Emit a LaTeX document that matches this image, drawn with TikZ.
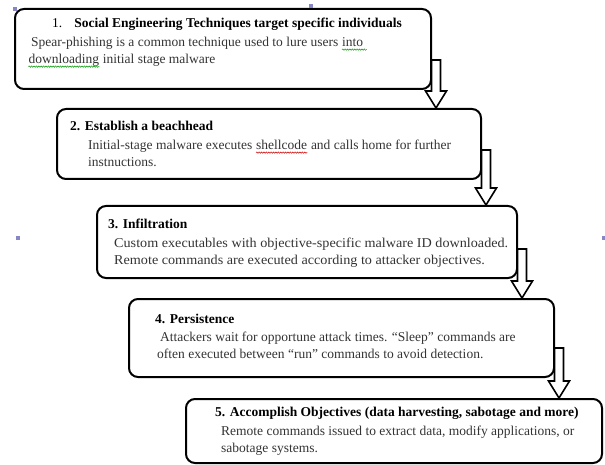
\documentclass[tikz,border=0pt]{standalone}
\usepackage{fontspec}
\setmainfont{Liberation Serif}
\usetikzlibrary{calc,decorations.pathmorphing}
\newcommand\wavy[2]{\tikz[baseline=(w.base),x=1pt,y=1pt]{\node[inner sep=0pt,anchor=base west] (w) {#2};
  \draw[#1, line width=0.5pt, decorate, decoration={snake, segment length=2.4pt, amplitude=0.7pt}]
    ([yshift=-2.6pt]w.base west) -- ([yshift=-2.6pt]w.base east);}}
\newcommand\wide[1]{\scalebox{1.05}[1]{#1}}
\newcommand\stagearrow[2]{%
  \path[blockarrow] let \p1=(#1.south east), \p2=(#2.north) in
    (\x1-0.5pt, \y1+30pt) -- (\x1+8.5pt, \y1+30pt) -- (\x1+8.5pt, \y2+17pt) --
    (\x1+14.5pt, \y2+17pt) -- (\x1+4pt, \y2) -- (\x1-6.5pt, \y2+17pt) --
    (\x1-0.5pt, \y2+17pt) -- cycle;}
\begin{document}
\begin{tikzpicture}[x=1pt,y=-1pt,
  stagebox/.style={draw, line width=2pt, rounded corners=9pt, anchor=north west, inner sep=0pt},
  ttl/.style={anchor=base west, align=left, inner sep=0pt, font=\fontsize{13.5}{17}\selectfont\bfseries},
  txt/.style={anchor=base west, align=left, inner sep=0pt, text=black!80, font=\fontsize{13.5}{17}\selectfont},
  blockarrow/.style={draw, fill=white, line width=1.6pt, line join=miter},
  handle/.style={fill=blue!35!gray!70, draw=none, minimum size=4pt, inner sep=0pt}]
\useasboundingbox (0,0) rectangle (605,465);
% boxes
\node[stagebox, minimum width=416pt, minimum height=80pt] (b1) at (14,8) {};
\node[stagebox, minimum width=424pt, minimum height=70pt] (b2) at (56,108) {};
\node[stagebox, minimum width=420pt, minimum height=72pt] (b3) at (96,205) {};
\node[stagebox, minimum width=425pt, minimum height=78pt] (b4) at (128,298) {};
\node[stagebox, minimum width=416pt, minimum height=64pt] (b5) at (185,398) {};
% texts (body nodes are anchored at the baseline of their last line)
\node[ttl] (t1) at (52,28) {\mdseries 1.\hspace{12pt}\bfseries Social Engineering Techniques target specific individuals};
\node[txt] (d1) at (28,64) {\hspace*{3pt}Spear-phishing is a common technique used to lure users \wavy{green!60!black}{into\ }\\\wavy{green!60!black}{downloading} initial stage malware};
\node[ttl] (t2) at (70,131) {2. Establish a beachhead};
\node[txt] (d2) at (88,167) {Initial-stage malware executes \wavy{red!80!black}{shellcode} and calls home for further\\instnuctions.};
\node[ttl] (t3) at (108,229) {3. Infiltration};
\node[txt] (d3) at (114,264) {\wide{Custom executables with objective-specific malware ID downloaded.}\\\wide{Remote commands are executed according to attacker objectives.}};
\node[ttl] (t4) at (155,323) {4. Persistence};
\node[txt] (d4) at (157,358) {\hspace*{3pt}Attackers wait for opportune attack times. “Sleep” commands are\\often executed between “run” commands to avoid detection.};
\node[ttl] (t5) at (215,416) {5. Accomplish Objectives (data harvesting, sabotage and more)};
\node[txt] (d5) at (221,452) {Remote commands issued to extract data, modify applications, or\\sabotage systems.};
% arrows
\stagearrow{b1}{b2}
\stagearrow{b2}{b3}
\stagearrow{b3}{b4}
\stagearrow{b4}{b5}
% selection handles
\node[handle] (h1) at (15,9) {};
\node[handle] (h2) at (311,6) {};
\node[handle] (h3) at (18,238) {};
\node[handle] (h4) at (604,238) {};
\end{tikzpicture}
\end{document}
